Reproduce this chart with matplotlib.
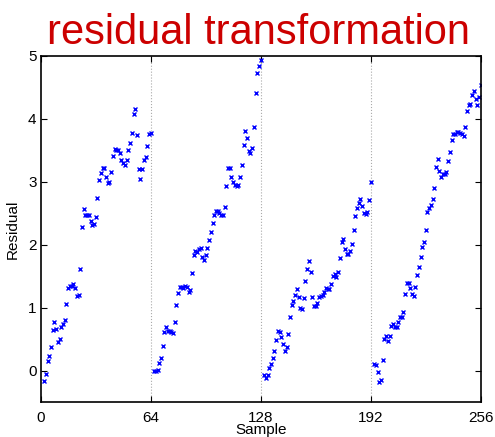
import numpy as np
import matplotlib
matplotlib.use('Agg')
import matplotlib.pyplot as plt

# residual values, one list per 64-sample block
block1 = [-0.16, -0.05, 0.16, 0.23, 0.38, 0.65, 0.78, 0.67, 0.46, 0.50,
          0.69, 0.75, 0.81, 1.06, 1.31, 1.35, 1.35, 1.38, 1.32, 1.19,
          1.20, 1.62, 2.28, 2.56, 2.47, 2.47, 2.47, 2.38, 2.31, 2.33,
          2.44, 2.74, 3.02, 3.14, 3.22, 3.22, 3.08, 2.98, 2.99, 3.15,
          3.41, 3.52, 3.51, 3.50, 3.45, 3.35, 3.30, 3.27, 3.35, 3.51,
          3.61, 3.78, 4.07, 4.15, 3.74, 3.20, 3.04, 3.21, 3.35, 3.40,
          3.57, 3.75, 3.78]
block2 = [0.00, -0.01, 0.02, 0.12, 0.21, 0.40, 0.61, 0.69, 0.63, 0.63,
          0.61, 0.60, 0.77, 1.05, 1.24, 1.33, 1.33, 1.32, 1.34, 1.33,
          1.25, 1.28, 1.55, 1.83, 1.90, 1.88, 1.94, 1.95, 1.81, 1.76,
          1.84, 1.95, 2.08, 2.21, 2.34, 2.47, 2.53, 2.53, 2.50, 2.47,
          2.47, 2.60, 2.93, 3.22, 3.22, 3.07, 3.00, 2.95, 2.93, 2.95,
          3.07, 3.26, 3.58, 3.81, 3.69, 3.49, 3.46, 3.54, 3.87, 4.41,
          4.72, 4.84, 4.93]
block3 = [-0.06, -0.11, -0.06, 0.04, 0.11, 0.20, 0.32, 0.49, 0.63, 0.62,
          0.53, 0.42, 0.32, 0.37, 0.59, 0.86, 1.04, 1.11, 1.21, 1.30,
          1.17, 1.00, 0.98, 1.16, 1.43, 1.62, 1.75, 1.57, 1.17, 1.03,
          1.03, 1.08, 1.17, 1.18, 1.20, 1.25, 1.32, 1.30, 1.30, 1.38,
          1.51, 1.54, 1.49, 1.56, 1.79, 2.05, 2.09, 1.93, 1.85, 1.86,
          1.90, 2.02, 2.24, 2.46, 2.58, 2.67, 2.73, 2.62, 2.51, 2.49,
          2.52, 2.71, 2.99]
block4 = [0.11, 0.09, -0.02, -0.18, -0.15, 0.17, 0.50, 0.56, 0.48, 0.56,
          0.71, 0.75, 0.70, 0.70, 0.78, 0.86, 0.85, 0.93, 1.22, 1.40,
          1.40, 1.32, 1.22, 1.19, 1.33, 1.52, 1.65, 1.81, 1.97, 2.04,
          2.24, 2.52, 2.59, 2.63, 2.73, 2.90, 3.23, 3.36, 3.17, 3.08,
          3.12, 3.12, 3.16, 3.33, 3.47, 3.67, 3.75, 3.75, 3.79, 3.79,
          3.77, 3.76, 3.72, 3.87, 4.12, 4.22, 4.24, 4.37, 4.44, 4.31,
          4.21, 4.34, 4.54]
blocks = [block1, block2, block3, block4]
block_len = 64
boundaries = [64, 128, 192]
xticks = [0, 64, 128, 192, 256]
yticks = [0, 1, 2, 3, 4, 5]

plt.rcParams['font.family'] = ['Liberation Sans', 'DejaVu Sans']

fig = plt.figure(figsize=(4.95, 4.37), dpi=100)
ax = fig.add_axes([0.0822, 0.0794, 0.889, 0.7931])

for k, vals in enumerate(blocks):
    end = block_len * (k + 1)
    x = np.arange(end - len(vals) + 1, end + 1)
    ax.plot(x, vals, 'x', color='#0000ff', markersize=3.0, mew=1.0)

for b in boundaries:
    ax.axvline(b, color='#aaaaaa', linestyle=':', linewidth=0.8, zorder=0)

ax.set_xlim(0, 256)
ax.set_ylim(-0.5, 5)
ax.set_xticks(xticks)
ax.set_yticks(yticks)
ax.tick_params(direction='in', length=4, width=0.8, labelsize=11,
               top=True, right=True)
ax.tick_params(axis='x', pad=6)
ax.tick_params(axis='y', pad=3)
for s in ax.spines.values():
    s.set_linewidth(1.2)
ax.set_xlabel('Sample', fontsize=11, labelpad=-1)
ax.set_ylabel('Residual', fontsize=11, labelpad=6)

fig.text(0.522, 0.97, 'residual transformation', ha='center', va='top',
         fontsize=30, color='#cc0000')

fig.savefig('out.png', dpi=100)
